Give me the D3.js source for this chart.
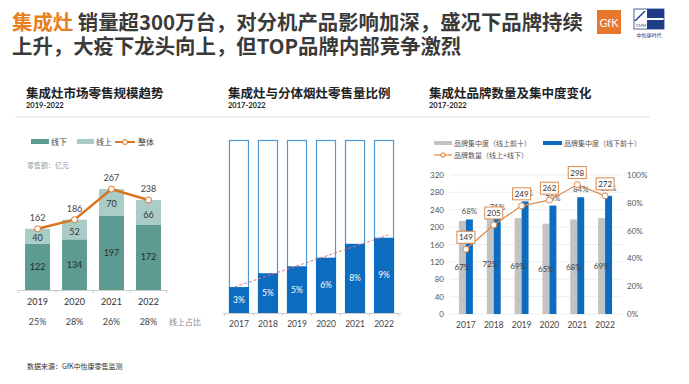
<!DOCTYPE html>
<html>
<head>
<meta charset="utf-8">
<script src="https://cdn.jsdelivr.net/npm/d3@7"></script>
<style>
  body { margin: 0; background: #fff; }
  text { font-family: Lato, "Noto Sans CJK SC", sans-serif; }
</style>
</head>
<body>
<div id="chart"></div>
<script>
const width = 689, height = 384;

// chart 1: market retail size (亿元)
const years1 = ['2019', '2020', '2021', '2022'];
const offline1 = [122, 134, 197, 172];
const online1 = [40, 52, 70, 66];
const total1 = [162, 186, 267, 238];
const onlineShare1 = ['25%', '28%', '26%', '28%'];

// chart 2: integrated stove share vs split hoods (%)
const years2 = ['2017', '2018', '2019', '2020', '2021', '2022'];
const share2 = [3.0, 4.6, 5.4, 6.4, 8.0, 8.7];
const shareLabels2 = ['3%', '5%', '5%', '6%', '8%', '9%'];

// chart 3: brand count and concentration
const years3 = ['2017', '2018', '2019', '2020', '2021', '2022'];
const concOnline3 = [0.67, 0.72, 0.69, 0.65, 0.68, 0.69];
const concOffline3 = [0.68, 0.71, 0.81, 0.78, 0.84, 0.85];
const brands3 = [149, 205, 249, 262, 298, 272];
const leftTicks3 = [0, 40, 80, 120, 160, 200, 240, 280, 320];
const rightTicks3 = [0, 0.2, 0.4, 0.6, 0.8, 1];

const orange = '#d9731f';
const cjk = '"Noto Sans CJK SC", sans-serif';

const svg = d3.select('#chart').append('svg').attr('width', width).attr('height', height);

// ---- header
const head = svg.append('text').attr('x', 12).attr('y', 30)
  .style('font-family', cjk).style('font-size', '20.4px').attr('font-weight', 'bold').attr('fill', '#3a3a3a');
head.append('tspan').attr('fill', '#e8801e').text('集成灶');
head.append('tspan').text(' 销量超300万台，对分机产品影响加深，盛况下品牌持续');
svg.append('text').attr('x', 12).attr('y', 54)
  .style('font-family', cjk).style('font-size', '20.4px').attr('font-weight', 'bold').attr('fill', '#3a3a3a')
  .text('上升，大疫下龙头向上，但TOP品牌内部竞争激烈');

// logos
svg.append('rect').attr('x', 597).attr('y', 10).attr('width', 24).attr('height', 24).attr('fill', '#e8772e');
svg.append('text').attr('x', 609).attr('y', 27).attr('text-anchor', 'middle')
  .attr('fill', '#fff').style('font-size', '11px').text('GfK');
const cmm = svg.append('g').attr('transform', 'translate(634,9)');
cmm.append('rect').attr('width', 30).attr('height', 20).attr('fill', '#fff').attr('stroke', '#1f3c88').attr('stroke-width', 0.8);
cmm.append('rect').attr('x', 13).attr('y', 0).attr('width', 17).attr('height', 9).attr('fill', '#1f3c88');
cmm.append('rect').attr('x', 13).attr('y', 11).attr('width', 17).attr('height', 9).attr('fill', '#1f3c88');
cmm.append('path').attr('d', 'M0,12 L10,2 L12,2 L2,12 Z').attr('fill', '#1f3c88');
cmm.append('text').attr('x', 2).attr('y', 18).style('font-size', '4px').attr('fill', '#1f3c88').text('CMM');
cmm.append('text').attr('x', 15).attr('y', 28).attr('text-anchor', 'middle')
  .style('font-family', cjk).style('font-size', '5px').attr('fill', '#1f3c88').text('中怡康时代');

// section titles
const sections = [
  { x: 26, title: '集成灶市场零售规模趋势', sub: '2019-2022' },
  { x: 228, title: '集成灶与分体烟灶零售量比例', sub: '2017-2022' },
  { x: 429, title: '集成灶品牌数量及集中度变化', sub: '2017-2022' }
];
sections.forEach(s => {
  svg.append('text').attr('x', s.x).attr('y', 98).style('font-family', cjk)
    .style('font-size', '12.5px').attr('font-weight', 'bold').attr('fill', '#222').text(s.title);
  svg.append('text').attr('x', s.x).attr('y', 108).style('font-size', '7.5px')
    .attr('font-weight', 'bold').attr('fill', '#222').text(s.sub);
});
svg.append('line').attr('x1', 15).attr('x2', 650).attr('y1', 117).attr('y2', 117)
  .attr('stroke', '#e2e2e2').attr('stroke-width', 1);

// ---- chart 1
const x1 = d3.scaleBand().domain(years1).range([18, 168]).paddingInner(0.324).paddingOuter(0.19);
const y1 = d3.scaleLinear().domain([0, 300]).range([290, 176.6]);
const g1 = svg.append('g');

const l1 = g1.append('g').attr('transform', 'translate(0,142)');
l1.append('rect').attr('x', 31).attr('y', -3).attr('width', 18).attr('height', 5).attr('fill', '#5e9b91');
l1.append('text').attr('x', 51).attr('y', 3).style('font-family', cjk).style('font-size', '8px').attr('fill', '#444').text('线下');
l1.append('rect').attr('x', 77).attr('y', -3).attr('width', 17).attr('height', 5).attr('fill', '#a9cdc6');
l1.append('text').attr('x', 96).attr('y', 3).style('font-family', cjk).style('font-size', '8px').attr('fill', '#444').text('线上');
l1.append('line').attr('x1', 115).attr('x2', 135).attr('y1', 0).attr('y2', 0).attr('stroke', orange).attr('stroke-width', 2);
l1.append('circle').attr('cx', 125).attr('cy', 0).attr('r', 2.5).attr('fill', '#fff').attr('stroke', orange).attr('stroke-width', 1);
l1.append('text').attr('x', 138).attr('y', 3).style('font-family', cjk).style('font-size', '8px').attr('fill', '#444').text('整体');
g1.append('text').attr('x', 27).attr('y', 168).style('font-family', cjk).style('font-size', '7px').attr('fill', '#999').text('零售额：亿元');

g1.selectAll('.off').data(years1).join('rect')
  .attr('x', d => x1(d)).attr('width', x1.bandwidth())
  .attr('y', (d, i) => y1(offline1[i])).attr('height', (d, i) => y1(0) - y1(offline1[i]))
  .attr('fill', '#5e9b91');
g1.selectAll('.on').data(years1).join('rect')
  .attr('x', d => x1(d)).attr('width', x1.bandwidth())
  .attr('y', (d, i) => y1(offline1[i] + online1[i])).attr('height', (d, i) => y1(offline1[i]) - y1(offline1[i] + online1[i]))
  .attr('fill', '#a9cdc6');
g1.selectAll('.offlab').data(years1).join('text')
  .attr('x', d => x1(d) + x1.bandwidth() / 2).attr('y', (d, i) => (y1(0) + y1(offline1[i])) / 2 + 3)
  .attr('text-anchor', 'middle').style('font-size', '9px').attr('fill', '#1e2f2c').text((d, i) => offline1[i]);
g1.selectAll('.onlab').data(years1).join('text')
  .attr('x', d => x1(d) + x1.bandwidth() / 2).attr('y', (d, i) => (y1(offline1[i]) + y1(offline1[i] + online1[i])) / 2 + 5)
  .attr('text-anchor', 'middle').style('font-size', '9px').attr('fill', '#333').text((d, i) => online1[i]);

const line1 = d3.line().x((d, i) => x1(years1[i]) + x1.bandwidth() / 2).y(d => y1(d));
g1.append('path').datum(total1).attr('d', line1).attr('fill', 'none').attr('stroke', orange).attr('stroke-width', 2.5);
g1.selectAll('.pt').data(total1).join('circle')
  .attr('cx', (d, i) => x1(years1[i]) + x1.bandwidth() / 2).attr('cy', d => y1(d)).attr('r', 3)
  .attr('fill', '#fff').attr('stroke', orange).attr('stroke-width', 1);
g1.selectAll('.tot').data(total1).join('text')
  .attr('x', (d, i) => x1(years1[i]) + x1.bandwidth() / 2).attr('y', d => y1(d) - 8)
  .attr('text-anchor', 'middle').style('font-size', '9px').attr('fill', '#444').text(d => d);

const ax1 = g1.append('g').attr('transform', 'translate(0,290)')
  .call(d3.axisBottom(x1).tickSize(0).tickPadding(9));
ax1.select('.domain').attr('stroke', '#ccc');
ax1.selectAll('text').style('font-size', '9px').attr('fill', '#333').style('font-family', 'Lato, sans-serif');
g1.selectAll('.sep1').data(d3.range(years1.length + 1)).join('line')
  .attr('x1', i => 18 + i * x1.step() + (i > 0 ? x1.step() * 0.028 : 0)).attr('x2', i => 18 + i * x1.step() + (i > 0 ? x1.step() * 0.028 : 0))
  .attr('y1', 290).attr('y2', 293).attr('stroke', '#ccc');
g1.selectAll('.share').data(onlineShare1).join('text')
  .attr('x', (d, i) => x1(years1[i]) + x1.bandwidth() / 2).attr('y', 325)
  .attr('text-anchor', 'middle').style('font-size', '9px').attr('fill', '#444').text(d => d);
g1.append('text').attr('x', 169).attr('y', 325).style('font-family', cjk).style('font-size', '8px').attr('fill', '#888').text('线上占比');

// ---- chart 2
const x2 = d3.scaleBand().domain(years2).range([222, 401]).paddingInner(0.31).paddingOuter(0.24);
const y2 = d3.scaleLinear().domain([0, 20]).range([313, 140]);
const g2 = svg.append('g');
g2.selectAll('.frame').data(years2).join('rect')
  .attr('x', d => x2(d) + 0.5).attr('width', x2.bandwidth() - 1)
  .attr('y', y2(20) + 0.5).attr('height', y2(0) - y2(20) - 0.5)
  .attr('fill', '#fff').attr('stroke', '#4d9bd6').attr('stroke-width', 1.2);
g2.selectAll('.fill').data(share2).join('rect')
  .attr('x', (d, i) => x2(years2[i])).attr('width', x2.bandwidth())
  .attr('y', d => y2(d)).attr('height', d => y2(0) - y2(d))
  .attr('fill', '#0b6cc0');
g2.selectAll('.lab').data(share2).join('text')
  .attr('x', (d, i) => x2(years2[i]) + x2.bandwidth() / 2).attr('y', d => (y2(0) + y2(d)) / 2 + 3)
  .attr('text-anchor', 'middle').style('font-size', '8.5px').attr('fill', '#fff').text((d, i) => shareLabels2[i]);

// linear trend of the share series
const idx = share2.map((d, i) => i);
const mx = d3.mean(idx), my = d3.mean(share2);
const slope = d3.sum(idx, i => (i - mx) * (share2[i] - my)) / d3.sum(idx, i => (i - mx) * (i - mx));
const icpt = my - slope * mx;
const xi = i => x2(years2[0]) + x2.bandwidth() / 2 + i * x2.step();
g2.append('line')
  .attr('x1', xi(-0.15)).attr('y1', y2(icpt + slope * -0.15))
  .attr('x2', xi(5.15)).attr('y2', y2(icpt + slope * 5.15))
  .attr('stroke', '#e0707c').attr('stroke-width', 1).attr('stroke-dasharray', '3,2');

const ax2 = g2.append('g').attr('transform', 'translate(0,313)')
  .call(d3.axisBottom(x2).tickSize(0).tickPadding(8));
ax2.select('.domain').attr('stroke', '#ccc');
ax2.selectAll('text').style('font-size', '8.5px').attr('fill', '#444');
g2.selectAll('.sep2').data(d3.range(years2.length + 1)).join('line')
  .attr('x1', i => x2(years2[0]) - x2.step() * 0.155 + i * x2.step())
  .attr('x2', i => x2(years2[0]) - x2.step() * 0.155 + i * x2.step())
  .attr('y1', 313).attr('y2', 316).attr('stroke', '#ccc');

// ---- chart 3
const x3 = d3.scaleBand().domain(years3).range([452, 619]);
const x3s = d3.scaleBand().domain(['on', 'off']).range([0, x3.bandwidth()]).paddingOuter(1);
const yL = d3.scaleLinear().domain([0, 320]).range([314, 175]);
const yR = d3.scaleLinear().domain([0, 1]).range([314, 175]);
const g3 = svg.append('g');

const l3 = g3.append('g');
l3.append('rect').attr('x', 434).attr('y', 141).attr('width', 18).attr('height', 4).attr('fill', '#c3c3c3');
l3.append('text').attr('x', 454).attr('y', 146).style('font-family', cjk).style('font-size', '7px').attr('fill', '#555').text('品牌集中度（线上前十）');
l3.append('rect').attr('x', 543).attr('y', 141).attr('width', 19).attr('height', 4).attr('fill', '#0b6cc0');
l3.append('text').attr('x', 564).attr('y', 146).style('font-family', cjk).style('font-size', '7px').attr('fill', '#555').text('品牌集中度（线下前十）');
l3.append('line').attr('x1', 434).attr('x2', 452).attr('y1', 155).attr('y2', 155).attr('stroke', orange).attr('stroke-width', 1);
l3.append('circle').attr('cx', 443).attr('cy', 155).attr('r', 2.2).attr('fill', '#fff').attr('stroke', orange);
l3.append('text').attr('x', 454).attr('y', 158).style('font-family', cjk).style('font-size', '7px').attr('fill', '#555').text('品牌数量（线上+线下）');

g3.selectAll('.grid').data(leftTicks3).join('line')
  .attr('x1', 450).attr('x2', 622).attr('y1', d => yL(d)).attr('y2', d => yL(d))
  .attr('stroke', '#eeeeee').attr('stroke-width', 1);
g3.selectAll('.lt').data(leftTicks3).join('text')
  .attr('x', 444).attr('y', d => yL(d) + 3).attr('text-anchor', 'end')
  .style('font-size', '8px').attr('fill', '#555').text(d => d);
g3.selectAll('.rt').data(rightTicks3).join('text')
  .attr('x', 627).attr('y', d => yR(d) + 3)
  .style('font-size', '8px').attr('fill', '#555').text(d => d3.format('.0%')(d));

g3.selectAll('.gbar').data(concOnline3).join('rect')
  .attr('x', (d, i) => x3(years3[i]) + x3s('on')).attr('width', x3s.bandwidth())
  .attr('y', d => yR(d)).attr('height', d => yR(0) - yR(d)).attr('fill', '#c3c3c3');
g3.selectAll('.bbar').data(concOffline3).join('rect')
  .attr('x', (d, i) => x3(years3[i]) + x3s('off')).attr('width', x3s.bandwidth())
  .attr('y', d => yR(d)).attr('height', d => yR(0) - yR(d)).attr('fill', '#0b6cc0');
g3.selectAll('.glab').data(concOnline3).join('text')
  .attr('x', (d, i) => x3(years3[i]) + x3s('on') + x3s.bandwidth() / 2).attr('y', d => (yR(0) + yR(d)) / 2 + 3)
  .attr('text-anchor', 'middle').style('font-size', '8px').attr('fill', '#444').text(d => d3.format('.0%')(d));
g3.selectAll('.blab').data(concOffline3).join('text')
  .attr('x', (d, i) => x3(years3[i]) + x3s('off') + x3s.bandwidth() / 2).attr('y', d => yR(d) - 5)
  .attr('text-anchor', 'middle').style('font-size', '8px').attr('fill', '#555').text(d => d3.format('.0%')(d));

const cx3 = i => x3(years3[i]) + x3.bandwidth() / 2;
g3.append('path').datum(brands3)
  .attr('d', d3.line().x((d, i) => cx3(i)).y(d => yL(d)))
  .attr('fill', 'none').attr('stroke', '#dc8a4c').attr('stroke-width', 1.2);
g3.selectAll('.bpt').data(brands3).join('circle')
  .attr('cx', (d, i) => cx3(i)).attr('cy', d => yL(d)).attr('r', 3)
  .attr('fill', '#fff').attr('stroke', '#dc8a4c').attr('stroke-width', 1);
const boxes = g3.selectAll('.box').data(brands3).join('g')
  .attr('transform', (d, i) => `translate(${cx3(i)},${yL(d) - 12})`);
boxes.append('rect').attr('x', -9).attr('y', -6).attr('width', 18).attr('height', 12)
  .attr('fill', '#fff').attr('stroke', '#dc8a4c').attr('stroke-width', 1);
boxes.append('text').attr('y', 3).attr('text-anchor', 'middle').style('font-size', '8px').attr('fill', '#333').text(d => d);

const ax3 = g3.append('g').attr('transform', 'translate(0,314)')
  .call(d3.axisBottom(x3).tickSize(0).tickPadding(8));
ax3.select('.domain').remove();
ax3.selectAll('text').style('font-size', '8.5px').attr('fill', '#444');

// footer
svg.append('text').attr('x', 27).attr('y', 369).style('font-family', cjk)
  .style('font-size', '7px').attr('fill', '#333').text('数据来源：GfK中怡康零售监测');
</script>
</body>
</html>
